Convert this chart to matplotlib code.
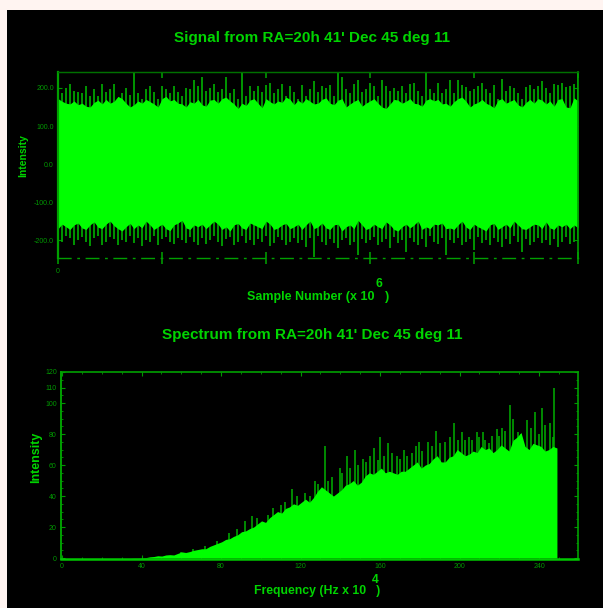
import numpy as np
import matplotlib
matplotlib.use('Agg')
from matplotlib import pyplot as plt
from matplotlib.patches import Rectangle

# Colours
GREEN = '#00ff00'
SPIKE = '#00b000'
TEXT = '#00d400'
DIM = '#009800'
AXIS = '#00a000'

# Time series, 0 to 5 x 10^6 samples. Solid band edge and the spikes above it
sig_solid_top = [172,165,160,158,166,156,160,152,150,162,168,158,170,160,165,178,172,160,150,156,
    166,160,170,164,158,150,172,178,166,170,160,158,150,164,160,170,156,152,168,170,
    160,172,176,166,158,146,160,154,168,172,160,148,172,164,158,166,162,176,170,156,
    168,160,172,165,158,160,170,174,160,156,168,172,150,158,165,170,152,160,166,172,
    160,150,146,158,170,168,160,165,172,160,158,152,168,172,166,170,158,160,152,164,
    172,176,165,150,158,162,170,160,155,148,168,172,160,165,170,156,150,162,170,160,
    172,168,158,166,152,170,172,150,148,174,166]
sig_peak_top = [172,188,200,210,192,190,186,205,178,196,180,210,190,196,210,172,188,200,182,239,
    186,172,198,205,190,172,205,198,188,205,190,178,200,196,222,205,228,192,200,210,
    190,198,228,186,196,172,239,178,205,192,206,190,208,212,186,198,210,178,205,190,
    172,208,180,196,218,190,205,200,208,180,242,228,196,186,210,222,190,198,214,205,
    178,222,206,192,200,192,205,188,210,212,192,180,239,198,188,212,186,196,222,186,
    222,208,202,192,196,205,212,198,186,208,170,224,192,205,200,186,170,202,208,196,
    205,218,200,186,210,208,212,202,205,210,239]
sig_solid_bot = [-170,-158,-165,-172,-160,-155,-168,-172,-160,-152,-166,-170,-158,-150,-162,-170,-176,-165,-156,-170,
    -160,-168,-150,-160,-172,-165,-158,-170,-175,-160,-155,-148,-168,-172,-160,-165,-158,-170,-160,-150,
    -158,-172,-165,-176,-160,-156,-168,-172,-155,-160,-165,-170,-150,-158,-172,-168,-160,-156,-170,-165,
    -158,-172,-160,-150,-170,-165,-155,-168,-172,-160,-158,-176,-165,-160,-170,-148,-160,-172,-168,-158,
    -165,-170,-152,-160,-172,-176,-165,-158,-168,-160,-150,-172,-165,-170,-158,-160,-155,-170,-168,-172,
    -160,-150,-166,-172,-158,-165,-170,-176,-160,-156,-172,-165,-158,-168,-150,-160,-170,-172,-165,-158,
    -160,-170,-152,-168,-172,-160,-165,-158,-170,-160,-168]
sig_peak_bot = [-185,-205,-190,-195,-212,-200,-192,-205,-215,-195,-190,-212,-205,-192,-198,-212,-200,-205,-190,-208,
    -195,-215,-200,-205,-190,-212,-198,-192,-205,-210,-195,-200,-208,-192,-205,-212,-195,-210,-200,-190,
    -205,-215,-198,-192,-212,-205,-190,-208,-200,-212,-198,-205,-190,-215,-208,-192,-200,-212,-205,-195,
    -208,-200,-218,-195,-245,-190,-205,-212,-198,-208,-220,-200,-195,-212,-205,-238,-198,-208,-200,-192,
    -212,-205,-198,-220,-192,-208,-200,-232,-195,-205,-212,-198,-218,-190,-205,-210,-195,-240,-200,-208,
    -195,-212,-205,-198,-225,-192,-208,-200,-212,-195,-205,-218,-198,-210,-190,-205,-230,-198,-212,-205,
    -195,-208,-200,-212,-198,-218,-205,-192,-210,-205,-198]
sig_xticks = [0, 1, 2, 3, 4, 5]
sig_xlabels = ['0', '', '', '', '', '']
sig_yticks = [-200, -100, 0, 100, 200]
sig_ylabels = ['-200.0', '-100.0', '0.0', '100.0', '200.0']

# Spectrum envelope, 0 to 249 x 10^4 Hz
spec_solid = [0,0,0,0,0,0,0,0,0,0,0,0,0,0,0,0,0,0,0.1,0.1,0.2,0.3,
    0.8,1,1.5,1.3,2,2.2,2,3,4,3.6,4.2,5,5.5,6,6,7.5,8.5,9.5,10.5,12,12.5,14,15,17,17.5,19,20,22,24,23,
    26,28,30,29,32,33,35,34,36,38,36,39,43,46,44,42,40,42,44,47,48,50,47,49,53,55,54,56,58,55,56,55,54,
    56,56,58,60,62,58,60,61,64,66,62,62,65,66,70,68,66,67,69,68,72,70,71,68,70,73,71,69,76,78,81,72,70,74,73,72,69,70,72,71]
spike_freq = [60,66,72,78,84,88,92,95.6,98,103.6,106,110,112.2,115.7,118,122.3,125,127.3,129,132.3,134,136,139.9,141,
    143.4,145,147.4,149,151.4,153,155,157,159,160,162,164,166,168.6,170,172,173.6,176,178,179.6,181,
    184.2,186,188.2,190,192.7,195,197.2,199,201.3,203,205,206.3,208.8,210,211.8,213,215,216.4,218.9,220,221.4,223,
    225.4,227,229.4,231,234,236,238,240,241.5,243,245.5,247,247.5]
spike_top = [4,6,8,11,16,19,24,27,26,28,32,34,36,44.5,40,42,40,50,48,72,50,52,58,55,
    66,58,70,60,64,62,66,71,63,78,66,74,68,66,64,70,66,68,72,75,69,
    75,72,82,74,75,78,87,76,81,76,78,76,81,78,81,76,74,79,83,79,84,82,
    99,90,81,80,89,84,94,80,97,86,87,78,110]
spec_xticks = [0, 40, 80, 120, 160, 200, 240]
spec_yticks = [0, 20, 40, 60, 80, 100, 110, 120]
spec_ylabels = ['0', '20', '40', '60', '80', '100', '110', '120']


def pxAxes(fig, left, top, right, bottom):
    W, H = fig.get_size_inches() * fig.dpi
    return fig.add_axes([left / W, 1 - bottom / H, (right - left) / W, (bottom - top) / H])


def styleAxes(ax):
    ax.set_facecolor('black')
    ax.patch.set_alpha(0)
    for side in ax.spines:
        ax.spines[side].set_color(AXIS)
        ax.spines[side].set_linewidth(1)
    ax.tick_params(axis='both', which='major', colors=DIM, labelsize=5, length=3, width=0.8,
                   direction='in', right=True, pad=3)
    ax.tick_params(axis='both', which='minor', colors=DIM, length=1.5, width=0.6,
                   direction='in', right=True)


fig = plt.figure(figsize=(6.03, 6.08), dpi=100, facecolor='#fff4f1')
W, H = fig.get_size_inches() * fig.dpi
fig.add_artist(Rectangle((7 / W, 0), 1 - 7 / W, 1 - 10 / H, transform=fig.transFigure,
                         facecolor='black', edgecolor='none', zorder=-1))
plt.rcParams['font.family'] = ['Liberation Sans', 'DejaVu Sans']

# Signal panel
ax1 = pxAxes(fig, 58, 72, 578, 258)
styleAxes(ax1)
ax1.vlines(np.linspace(0, 5, len(sig_peak_top)), 0, sig_peak_top, color=SPIKE, lw=1.2)
ax1.vlines(np.linspace(0, 5, len(sig_peak_bot)), sig_peak_bot, 0, color=SPIKE, lw=1.2)
ax1.fill_between(np.linspace(0, 5, len(sig_solid_top)), sig_solid_bot, sig_solid_top, color=GREEN, lw=0, zorder=2.2)
ax1.set_xlim(0, 5)
ax1.set_ylim(-247, 242)
ax1.set_xticks(sig_xticks)
ax1.set_xticklabels(sig_xlabels)
ax1.set_yticks(sig_yticks)
ax1.set_yticklabels(sig_ylabels)
ax1.tick_params(axis='x', which='major', direction='inout', length=9, width=1.2)
top1 = ax1.secondary_xaxis('top')
top1.set_xticks(sig_xticks)
top1.set_xticklabels([])
top1.tick_params(direction='in', length=4, width=1.2, colors=DIM)
top1.spines['top'].set_color('#007000')
ax1.spines['left'].set_linewidth(1.6)
ax1.spines['right'].set_linewidth(1.2)
ax1.spines['top'].set_color('#007000')
ax1.spines['bottom'].set_linestyle((0, (9, 5, 1, 5)))

# Spectrum panel
ax2 = pxAxes(fig, 61, 372, 578, 559)
styleAxes(ax2)
spec_x = np.linspace(0, 249, len(spec_solid))
ax2.vlines(spike_freq, 0, spike_top, color=SPIKE, lw=1.1)
ax2.fill_between(spec_x, 0, spec_solid, color=GREEN, lw=0, zorder=2.2)
ax2.set_xlim(-0.5, 259.6)
ax2.set_ylim(-0.6, 120)
ax2.set_xticks(spec_xticks)
ax2.set_yticks(spec_yticks)
ax2.set_yticklabels(spec_ylabels)
ax2.minorticks_on()
ax2.tick_params(axis='x', which='both', top=True)
ax2.spines['bottom'].set_color('#00c800')
ax2.spines['bottom'].set_linewidth(1.8)
ax2.spines['left'].set_linewidth(1.4)
ax2.spines['right'].set_linewidth(1.2)
ax2.spines['top'].set_linewidth(1.2)

# Titles and axis labels are placed in figure pixels
def pxText(x, y, s, size, rotation=0, weight='normal', color=TEXT):
    fig.text(x / W, 1 - y / H, s, color=color, fontsize=size, rotation=rotation,
             ha='center', va='center', fontweight=weight)


pxText(312, 38, "Signal from RA=20h 41' Dec 45 deg 11", 11, weight='bold')
pxText(312, 335, "Spectrum from RA=20h 41' Dec 45 deg 11", 11, weight='bold')
pxText(318, 297, 'Sample Number (x 10   )', 9, weight='bold')
pxText(379, 284, '6', 8.7, weight='bold')
pxText(317, 591, 'Frequency (Hz x 10   )', 8.8, weight='bold')
pxText(375, 580, '4', 8.7, weight='bold')
pxText(23, 156, 'Intensity', 7.5, rotation=90, weight='bold')
pxText(36, 457, 'Intensity', 9, rotation=90, weight='bold')

fig.savefig('out.png', dpi=100, facecolor=fig.get_facecolor())
